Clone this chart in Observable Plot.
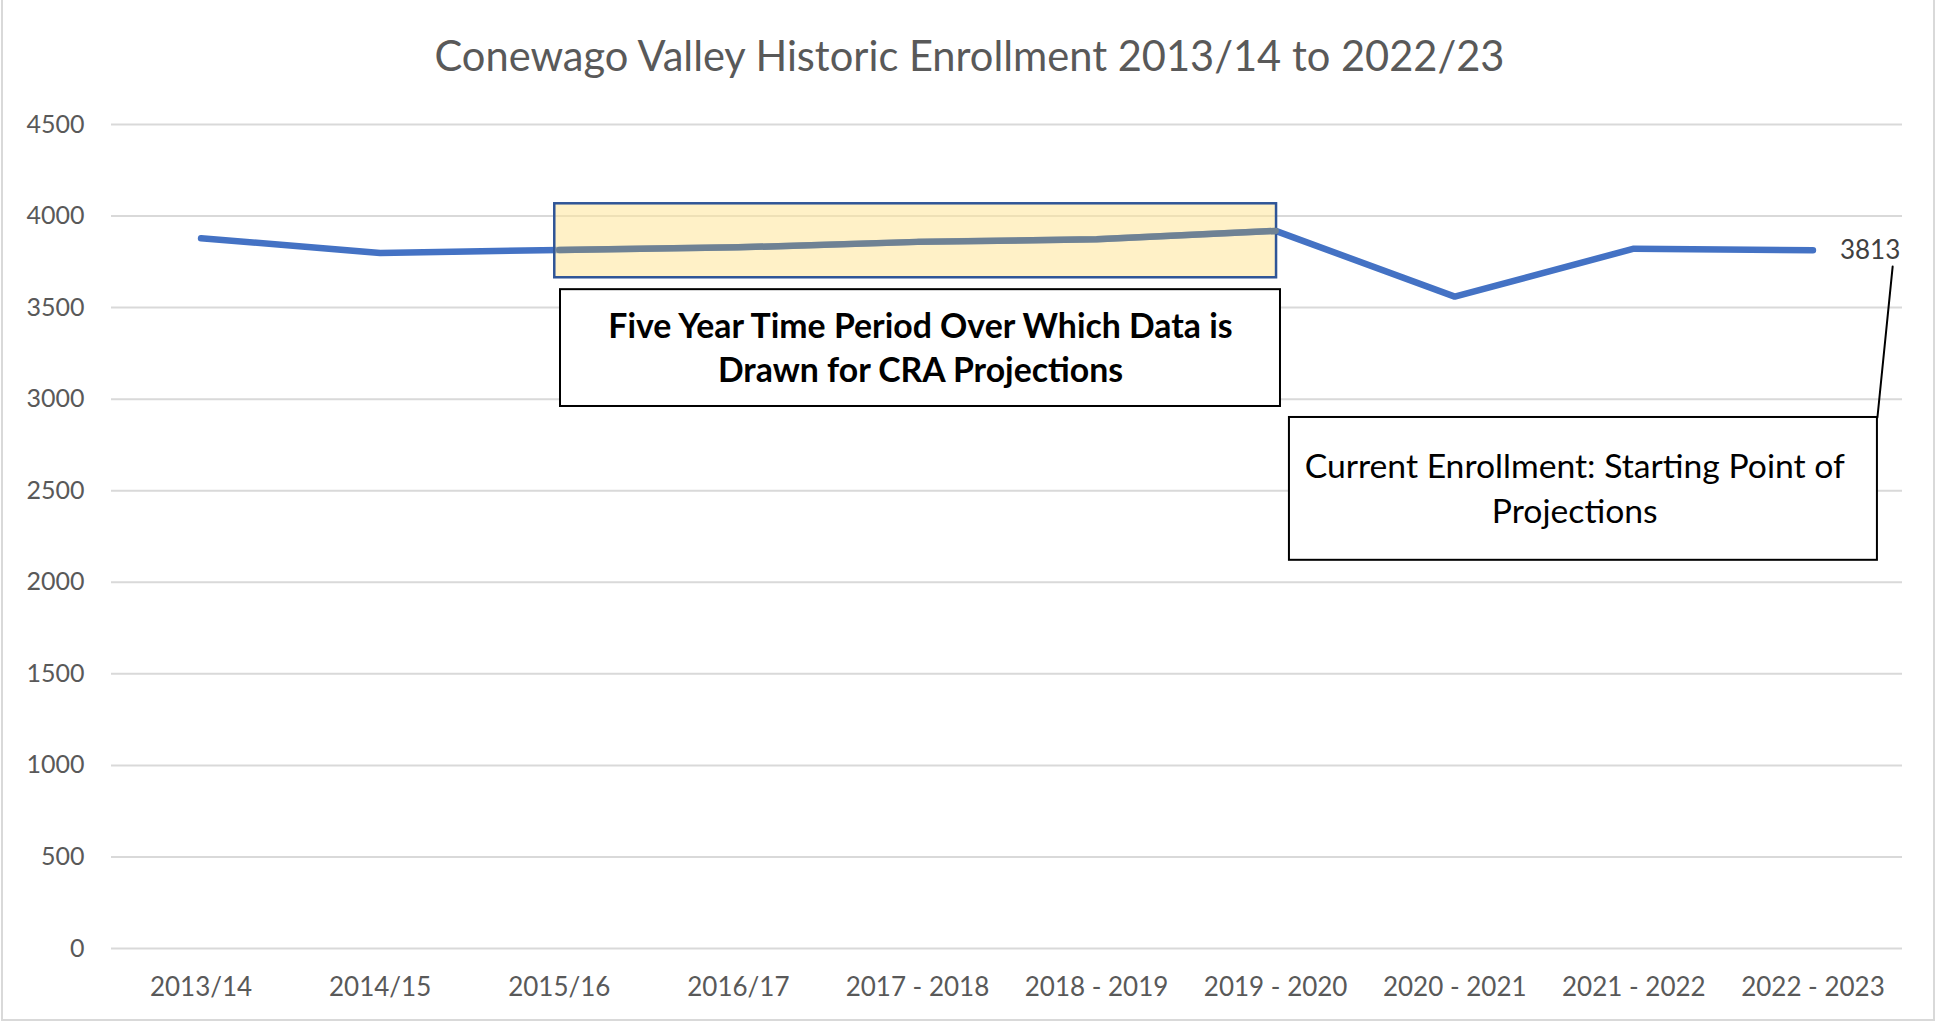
<!DOCTYPE html>
<html>
<head>
<meta charset="utf-8">
<script src="https://cdn.jsdelivr.net/npm/d3@7"></script>
<script src="https://cdn.jsdelivr.net/npm/@observablehq/plot@0.6"></script>
<style>
  html, body { margin: 0; padding: 0; background: #fff; }
  #wrap { position: relative; width: 1939px; height: 1023px; overflow: hidden; background: #fff; }
  #border { position: absolute; left: 1px; top: -2px; width: 1934px; height: 1023px; border: 2px solid #D9D9D9; box-sizing: border-box; pointer-events: none; }
  #title { position: absolute; left: 0; width: 1939px; top: 29px; text-align: center; font-family: Lato, "Open Sans", sans-serif; font-size: 41.6px; color: #595959; line-height: 52px; }
  svg { font-family: Lato, "Open Sans", sans-serif; }
</style>
</head>
<body>
<div id="wrap">
  <div id="chart"></div>
  <div id="title">Conewago Valley Historic Enrollment 2013/14 to 2022/23</div>
  <div id="border"></div>
</div>
<script>
// ---- data ----
const years = ["2013/14", "2014/15", "2015/16", "2016/17", "2017 - 2018", "2018 - 2019", "2019 - 2020", "2020 - 2021", "2021 - 2022", "2022 - 2023"];
const enrollment = [3879, 3798, 3815, 3829, 3859, 3873, 3919, 3560, 3822, 3813];
const yTicks = [0, 500, 1000, 1500, 2000, 2500, 3000, 3500, 4000, 4500];
const highlightStart = 2; // 2015/16
const highlightEnd = 6;   // 2019 - 2020
const noteFive = "Five Year Time Period Over Which Data is\nDrawn for CRA Projections";
const noteCurrent = "Current Enrollment: Starting Point of\nProjections";
const lastLabel = "3813";

const rows = years.map((y, i) => ({i, year: y, value: enrollment[i]}));
const highlightRows = rows.filter(d => d.i >= highlightStart && d.i <= highlightEnd);
const last = rows[rows.length - 1];

// annotation geometry (in data coordinates)
const hlRect = [{x1: highlightStart - 0.025, x2: highlightEnd + 0.005, y1: 3663, y2: 4067}];
const box1 = [{x1: highlightStart + 0.007, x2: highlightEnd + 0.027, y1: 2960, y2: 3598}];
const box2 = [{x1: 6.077, x2: 9.36, y1: 2120, y2: 2900}];
const leader = [{x: 9.36, y: 2900}, {x: 9.445, y: 3724}];

const chart = Plot.plot({
  width: 1939,
  height: 1023,
  marginLeft: 111,
  marginRight: 37,
  marginTop: 124,
  marginBottom: 75,
  style: {fontFamily: "Lato, 'Open Sans', sans-serif", background: "transparent"},
  x: {type: "linear", domain: [-0.5, years.length - 0.5]},
  y: {domain: [0, 4500]},
  marks: [
    Plot.gridY(yTicks, {stroke: "#D9D9D9", strokeOpacity: 1, strokeWidth: 2}),
    Plot.axisY(yTicks, {tickSize: 0, tickPadding: 27, fontSize: 25, fill: "#595959", label: null, tickFormat: d => String(d)}),
    Plot.axisX(years.map((_, i) => i), {tickSize: 0, tickPadding: 29, fontSize: 26, fill: "#595959", label: null, tickFormat: i => years[i]}),
    Plot.line(rows, {x: "i", y: "value", stroke: "#4472C4", strokeWidth: 6.5, strokeLinejoin: "miter", strokeLinecap: "round"}),
    Plot.rect(hlRect, {x1: "x1", x2: "x2", y1: "y1", y2: "y2", fill: "#FFE699", fillOpacity: 0.55, stroke: "#2F5597", strokeWidth: 2.5}),
    Plot.line(highlightRows, {x: "i", y: "value", stroke: "#6F8294", strokeWidth: 6.5, strokeLinejoin: "round"}),
    Plot.rect(box1, {x1: "x1", x2: "x2", y1: "y1", y2: "y2", fill: "white", stroke: "black", strokeWidth: 2}),
    Plot.text([noteFive], {x: (box1[0].x1 + box1[0].x2) / 2, y: 3290, text: d => d, fontSize: 33.8, fontWeight: "bold", fill: "black", lineHeight: 1.29, textAnchor: "middle"}),
    Plot.line(leader, {x: "x", y: "y", stroke: "black", strokeWidth: 2}),
    Plot.rect(box2, {x1: "x1", x2: "x2", y1: "y1", y2: "y2", fill: "white", stroke: "black", strokeWidth: 2}),
    Plot.text([noteCurrent], {x: 7.67, y: 2525, text: d => d, fontSize: 33.7, fill: "black", lineHeight: 1.33, textAnchor: "middle"}),
    Plot.text([last], {x: "i", y: "value", text: () => lastLabel, dx: 27, textAnchor: "start", fontSize: 26, fill: "#404040"})
  ]
});
document.getElementById("chart").appendChild(chart);
</script>
</body>
</html>
